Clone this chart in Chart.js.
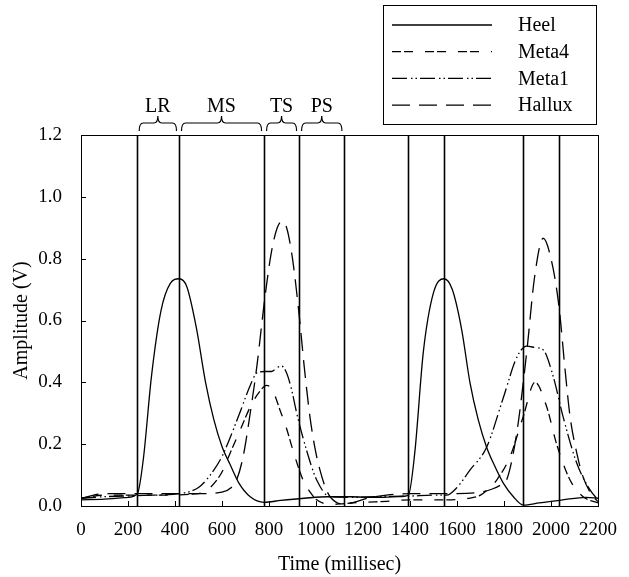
<!DOCTYPE html>
<html>
<head>
<meta charset="utf-8">
<script src="https://cdn.jsdelivr.net/npm/chart.js@4.4.1/dist/chart.umd.min.js"></script>
<style>
  body { margin: 0; background: #fff; }
  canvas { display: block; }
</style>
</head>
<body>
<canvas id="myChart" width="629" height="577"></canvas>
<script>
// tick labels
const xTicks = [0, 200, 400, 600, 800, 1000, 1200, 1400, 1600, 1800, 2000, 2200];
const yTicks = [0, 0.2, 0.4, 0.6, 0.8, 1.0, 1.2];

// gait event lines (ms) and the phase names for the first cycle
const phaseLines = [237, 417, 779, 928, 1121, 1393, 1545, 1882, 2034];
const phaseNames = ['LR', 'MS', 'TS', 'PS'];

// series
const heelMs = [0, 100, 200, 240, 265, 300, 340, 380, 417, 450, 490, 530, 565, 601, 634, 672, 720, 779, 850, 950, 1050, 1150, 1250, 1350, 1393, 1420, 1457, 1500, 1545, 1580, 1620, 1655, 1690, 1726, 1760, 1797, 1840, 1882, 1950, 2050, 2150, 2200];
const heelV  = [0.02, 0.022, 0.028, 0.04, 0.15, 0.42, 0.63, 0.72, 0.735, 0.71, 0.58, 0.40, 0.28, 0.19, 0.135, 0.074, 0.03, 0.012, 0.018, 0.025, 0.03, 0.03, 0.028, 0.03, 0.035, 0.17, 0.50, 0.69, 0.735, 0.70, 0.57, 0.40, 0.28, 0.19, 0.13, 0.074, 0.03, 0.003, 0.01, 0.02, 0.028, 0.025];

const meta4Ms = [0, 100, 300, 500, 550, 600, 634, 680, 720, 760, 790, 815, 847, 875, 902, 945, 975, 1003, 1060, 1120, 1200, 1300, 1400, 1550, 1650, 1700, 1726, 1769, 1826, 1882, 1932, 1982, 2024, 2081, 2137, 2200];
const meta4V  = [0.025, 0.035, 0.035, 0.04, 0.06, 0.11, 0.17, 0.25, 0.32, 0.37, 0.39, 0.375, 0.31, 0.25, 0.18, 0.084, 0.045, 0.02, 0.005, 0.008, 0.012, 0.015, 0.02, 0.02, 0.025, 0.035, 0.05, 0.084, 0.16, 0.29, 0.40, 0.32, 0.20, 0.084, 0.03, 0.01];

const meta1Ms = [0, 100, 300, 420, 500, 550, 600, 634, 680, 720, 748, 780, 810, 835, 855, 875, 895, 918, 960, 1003, 1060, 1150, 1250, 1400, 1500, 1556, 1600, 1655, 1726, 1797, 1854, 1897, 1935, 1967, 2009, 2051, 2109, 2166, 2200];
const meta1V  = [0.025, 0.03, 0.035, 0.04, 0.06, 0.1, 0.16, 0.22, 0.31, 0.39, 0.43, 0.435, 0.435, 0.448, 0.452, 0.43, 0.38, 0.30, 0.18, 0.084, 0.03, 0.028, 0.03, 0.032, 0.035, 0.035, 0.06, 0.116, 0.19, 0.35, 0.48, 0.517, 0.512, 0.505, 0.42, 0.29, 0.14, 0.052, 0.02];

const halluxMs = [0, 100, 300, 500, 600, 640, 662, 690, 720, 748, 783, 810, 835, 854, 875, 900, 928, 950, 974, 1000, 1017, 1040, 1060, 1115, 1160, 1220, 1300, 1400, 1500, 1600, 1700, 1750, 1790, 1811, 1854, 1897, 1930, 1967, 2000, 2034, 2060, 2081, 2110, 2136, 2170, 2200];
const halluxV  = [0.025, 0.04, 0.04, 0.04, 0.045, 0.06, 0.084, 0.16, 0.30, 0.45, 0.677, 0.82, 0.90, 0.92, 0.90, 0.80, 0.62, 0.45, 0.29, 0.17, 0.116, 0.06, 0.03, 0.006, 0.012, 0.025, 0.035, 0.04, 0.04, 0.04, 0.045, 0.055, 0.07, 0.084, 0.235, 0.50, 0.74, 0.866, 0.80, 0.645, 0.44, 0.29, 0.17, 0.095, 0.04, 0.014];

const serif = "'Liberation Serif', 'Times New Roman', serif";

function pts(ms, v) {
  return ms.map((t, i) => ({ x: t, y: v[i] }));
}

function makeSet(label, ms, v, dash) {
  return {
    label: label,
    data: pts(ms, v),
    borderColor: '#000',
    borderWidth: 1.3,
    borderDash: dash,
    pointRadius: 0,
    fill: false,
    cubicInterpolationMode: 'monotone'
  };
}

// box, inside ticks, event lines, phase brackets and the legend
const extras = {
  id: 'extras',
  afterDraw(chart) {
    const ctx = chart.ctx;
    const a = chart.chartArea;
    const xs = chart.scales.x, ys = chart.scales.y;
    ctx.save();
    ctx.strokeStyle = '#000';
    ctx.setLineDash([]);

    // event lines
    ctx.lineWidth = 1.6;
    phaseLines.forEach(t => {
      const px = Math.round(xs.getPixelForValue(t)) + 0.5;
      ctx.beginPath();
      ctx.moveTo(px, a.top);
      ctx.lineTo(px, a.bottom);
      ctx.stroke();
    });

    // frame
    ctx.lineWidth = 1;
    ctx.strokeRect(Math.round(a.left) + 0.5, Math.round(a.top) + 0.5, Math.round(a.right - a.left), Math.round(a.bottom - a.top));

    // ticks pointing inward
    xTicks.forEach(t => {
      const px = Math.round(xs.getPixelForValue(t)) + 0.5;
      ctx.beginPath();
      ctx.moveTo(px, a.bottom);
      ctx.lineTo(px, a.bottom - 5);
      ctx.stroke();
    });
    yTicks.forEach(t => {
      const py = Math.round(ys.getPixelForValue(t)) + 0.5;
      ctx.beginPath();
      ctx.moveTo(a.left, py);
      ctx.lineTo(a.left + 5, py);
      ctx.stroke();
    });

    // braces over the first cycle
    ctx.lineWidth = 1.2;
    ctx.font = '20px ' + serif;
    ctx.fillStyle = '#000';
    ctx.textAlign = 'center';
    ctx.textBaseline = 'alphabetic';
    phaseNames.forEach((name, i) => {
      const x0 = xs.getPixelForValue(phaseLines[i]) + 2.5;
      const x1 = xs.getPixelForValue(phaseLines[i + 1]) - 2.5;
      const mid = (x0 + x1) / 2;
      const yb = a.top - 4, yh = a.top - 12, yt = a.top - 19;
      ctx.beginPath();
      ctx.moveTo(x0, yb);
      ctx.quadraticCurveTo(x0, yh, x0 + 4, yh);
      ctx.lineTo(mid - 4, yh);
      ctx.quadraticCurveTo(mid, yh, mid, yt);
      ctx.quadraticCurveTo(mid, yh, mid + 4, yh);
      ctx.lineTo(x1 - 4, yh);
      ctx.quadraticCurveTo(x1, yh, x1, yb);
      ctx.stroke();
      ctx.fillText(name, mid, a.top - 23);
    });

    // legend
    const lx = 383, ly = 5, lw = 213, lh = 119;
    ctx.lineWidth = 1;
    ctx.fillStyle = '#fff';
    ctx.fillRect(lx, ly, lw, lh);
    ctx.strokeRect(lx + 0.5, ly + 0.5, lw, lh);
    ctx.textAlign = 'left';
    ctx.textBaseline = 'middle';
    ctx.fillStyle = '#000';
    chart.data.datasets.forEach((ds, i) => {
      const y = 25 + i * 26.7;
      ctx.lineWidth = ds.borderWidth;
      ctx.setLineDash(ds.borderDash || []);
      ctx.beginPath();
      ctx.moveTo(392, y);
      ctx.lineTo(492, y);
      ctx.stroke();
      ctx.setLineDash([]);
      ctx.fillText(ds.label, 518, y + 1);
    });
    ctx.restore();
  }
};

new Chart(document.getElementById('myChart'), {
  type: 'line',
  data: {
    datasets: [
      makeSet('Heel', heelMs, heelV, []),
      makeSet('Meta4', meta4Ms, meta4V, [9, 3, 9, 12]),
      makeSet('Meta1', meta1Ms, meta1V, [15, 4, 1.5, 3, 1.5, 3]),
      makeSet('Hallux', halluxMs, halluxV, [18, 9])
    ]
  },
  options: {
    responsive: false,
    animation: false,
    layout: { padding: { top: 135, right: 31, left: 0, bottom: 0 } },
    plugins: { legend: { display: false }, tooltip: { enabled: false } },
    scales: {
      x: {
        type: 'linear',
        min: 0,
        max: 2200,
        afterBuildTicks: s => { s.ticks = xTicks.map(v => ({ value: v })); },
        afterFit: s => { s.height = 71; },
        grid: { display: false },
        border: { display: false },
        ticks: { color: '#000', font: { family: serif, size: 19 }, autoSkip: false, maxRotation: 0, padding: 5, callback: v => String(v) },
        title: { display: true, text: 'Time (millisec)', color: '#000', font: { family: serif, size: 20 }, padding: { top: 0, bottom: 0 } }
      },
      y: {
        min: 0,
        max: 1.2,
        afterBuildTicks: s => { s.ticks = yTicks.map(v => ({ value: v })); },
        afterFit: s => { s.width = 81; },
        grid: { display: false },
        border: { display: false },
        ticks: { color: '#000', font: { family: serif, size: 19 }, padding: 11, callback: v => v.toFixed(1) },
        title: { display: true, text: 'Amplitude (V)', color: '#000', font: { family: serif, size: 20 }, padding: { top: 10, bottom: 0 } }
      }
    }
  },
  plugins: [extras]
});
</script>
</body>
</html>
